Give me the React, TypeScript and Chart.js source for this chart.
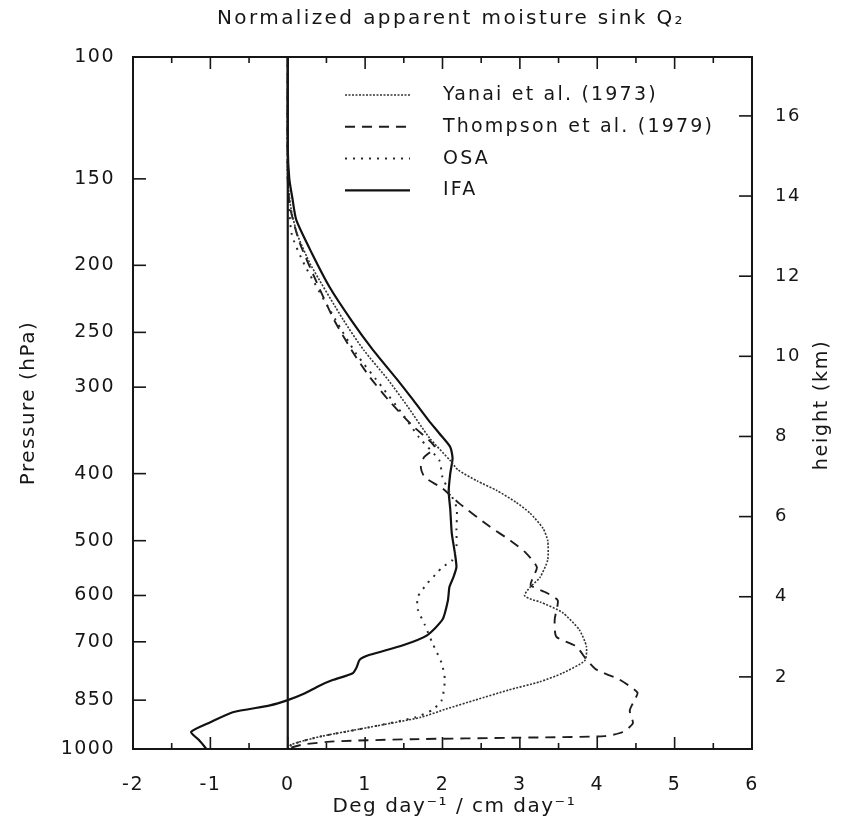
import { useEffect, useRef } from "react";
import { Chart, registerables } from "chart.js";

Chart.register(...registerables);

// ---- Data (pressure in hPa, Q2 in Deg day^-1 / cm day^-1) ----
const chartTitle = "Normalized apparent moisture sink Q₂";
const xTitle = "Deg day⁻¹ / cm day⁻¹";
const yTitle = "Pressure (hPa)";
const hTitle = "height (km)";

const pressureTicks = [100, 150, 200, 250, 300, 400, 500, 600, 700, 850, 1000];
const heightTicks = [2, 4, 6, 8, 10, 12, 14, 16];
const xTicks = [-2, -1, 0, 1, 2, 3, 4, 5, 6];

const seriesLabels = ["Yanai et al. (1973)", "Thompson et al. (1979)", "OSA", "IFA"];

const yanaiP = [100, 150, 165, 180, 200, 240, 265, 293, 320, 355, 383, 395, 410, 423, 440, 456, 480, 500, 533, 565, 584, 600, 608, 613, 635, 673, 711, 745, 777, 800, 822, 850, 875, 900, 930, 960, 985, 1000];
const yanaiQ = [0, 0, 0.04, 0.12, 0.3, 0.72, 0.98, 1.3, 1.55, 1.83, 2.1, 2.2, 2.45, 2.7, 2.95, 3.13, 3.3, 3.36, 3.36, 3.26, 3.13, 3.06, 3.15, 3.26, 3.55, 3.77, 3.86, 3.84, 3.55, 3.25, 2.85, 2.42, 2.05, 1.72, 1.06, 0.41, 0.05, 0];

const thompsonP = [100, 150, 165, 185, 210, 240, 268, 290, 313, 340, 366, 379, 392, 405, 420, 442, 477, 500, 521, 546, 565, 580, 595, 610, 650, 688, 711, 740, 768, 794, 829, 850, 880, 918, 945, 958, 963, 968, 975, 985, 995, 1000];
const thompsonQ = [0, 0, 0.03, 0.15, 0.36, 0.6, 0.85, 1.06, 1.3, 1.6, 1.9, 1.76, 1.72, 1.77, 2.0, 2.22, 2.61, 2.88, 3.08, 3.22, 3.17, 3.14, 3.35, 3.49, 3.45, 3.47, 3.73, 3.85, 3.99, 4.29, 4.52, 4.48, 4.42, 4.46, 4.33, 4.1, 3.0, 1.6, 0.6, 0.2, 0.05, 0];

const osaP = [100, 150, 180, 200, 240, 268, 300, 330, 355, 383, 405, 447, 483, 510, 533, 546, 558, 577, 603, 628, 661, 703, 752, 794, 850, 878, 900, 930, 960, 985, 1000];
const osaQ = [0, 0, 0.05, 0.22, 0.62, 0.88, 1.22, 1.5, 1.7, 1.96, 2.0, 2.18, 2.18, 2.18, 2.13, 2.0, 1.92, 1.8, 1.68, 1.68, 1.77, 1.87, 1.99, 2.03, 1.99, 1.87, 1.65, 1.06, 0.41, 0.05, 0];

const ifaP = [100, 135, 150, 160, 172, 192, 215, 240, 265, 293, 313, 335, 350, 366, 380, 400, 425, 450, 488, 521, 546, 565, 583, 610, 650, 685, 708, 731, 743, 762, 777, 795, 810, 833, 850, 865, 885, 915, 945, 970, 1000];
const ifaQ = [0, 0, 0.02, 0.06, 0.11, 0.31, 0.54, 0.82, 1.1, 1.42, 1.62, 1.82, 1.96, 2.1, 2.13, 2.1, 2.08, 2.1, 2.12, 2.16, 2.18, 2.14, 2.09, 2.07, 2.0, 1.8, 1.49, 1.06, 0.93, 0.89, 0.84, 0.58, 0.41, 0.2, 0, -0.23, -0.71, -1.0, -1.25, -1.15, -1.05];

const FONT = "'DejaVu Sans', sans-serif";
const INK = "#161616";

const toPoints = (p: number[], q: number[]) => p.map((v, i) => ({ x: q[i], y: v }));

const framePlugin = {
  id: "frame",
  beforeDraw(chart: any) {
    chart.ctx.letterSpacing = "1.5px";
  },
  afterDatasetsDraw(chart: any) {
    const { ctx, chartArea: a, scales } = chart;
    ctx.save();
    ctx.strokeStyle = INK;
    ctx.setLineDash([]);
    const seg = (x1: number, y1: number, x2: number, y2: number) => {
      ctx.beginPath();
      ctx.moveTo(x1, y1);
      ctx.lineTo(x2, y2);
      ctx.stroke();
    };
    ctx.lineWidth = 2;
    ctx.strokeRect(a.left, a.top, a.right - a.left, a.bottom - a.top);
    // zero line
    const x0 = scales.x.getPixelForValue(0);
    ctx.lineWidth = 2.2;
    seg(x0, a.top, x0, a.bottom);
    // x ticks (inward, top and bottom)
    ctx.lineWidth = 1.6;
    xTicks.forEach((v, i) => {
      const px = scales.x.getPixelForValue(v);
      seg(px, a.bottom, px, a.bottom - 12);
      seg(px, a.top, px, a.top + 12);
      if (i < xTicks.length - 1) {
        const m = scales.x.getPixelForValue((v + xTicks[i + 1]) / 2);
        seg(m, a.bottom, m, a.bottom - 6);
        seg(m, a.top, m, a.top + 6);
      }
    });
    pressureTicks.forEach((p) => {
      const py = scales.y.getPixelForValue(p);
      seg(a.left, py, a.left + 13, py);
    });
    heightTicks.forEach((h) => {
      const py = scales.h.getPixelForValue(h);
      seg(a.right, py, a.right - 13, py);
    });
    ctx.restore();
  },
  afterDraw(chart: any) {
    const { ctx, chartArea: a } = chart;
    ctx.save();
    ctx.fillStyle = INK;
    ctx.textBaseline = "middle";
    // chart title
    ctx.letterSpacing = "2.4px";
    ctx.font = `20px ${FONT}`;
    ctx.textAlign = "center";
    ctx.fillText(chartTitle, 443, 11);
    // right axis title, reading upward
    ctx.save();
    ctx.letterSpacing = "1.8px";
    ctx.font = `19px ${FONT}`;
    ctx.translate(814, (a.top + a.bottom) / 2 + 2);
    ctx.rotate(-Math.PI / 2);
    ctx.fillText(hTitle, 0, 0);
    ctx.restore();
    // legend
    ctx.letterSpacing = "2.2px";
    ctx.textAlign = "left";
    ctx.font = `19px ${FONT}`;
    chart.data.datasets.forEach((ds: any, i: number) => {
      const y = a.top + 38 + i * 31.8;
      ctx.strokeStyle = ds.borderColor;
      ctx.lineWidth = ds.borderWidth;
      ctx.setLineDash(ds.borderDash || []);
      ctx.beginPath();
      ctx.moveTo(a.left + 212, y);
      ctx.lineTo(a.left + 277, y);
      ctx.stroke();
      ctx.fillText(ds.label, a.left + 310, y);
    });
    ctx.restore();
  },
};

export default function App() {
  const ref = useRef<HTMLCanvasElement>(null);
  useEffect(() => {
    const tickFont = { family: FONT, size: 19 };
    const titleFont = { family: FONT, size: 20 };
    const chart = new Chart(ref.current!, {
      type: "scatter",
      data: {
        datasets: [
          {
            label: seriesLabels[0],
            data: toPoints(yanaiP, yanaiQ),
            borderColor: "#333",
            borderWidth: 1.6,
            borderDash: [2, 1.5],
          },
          {
            label: seriesLabels[1],
            data: toPoints(thompsonP, thompsonQ),
            borderColor: "#1e1e1e",
            borderWidth: 1.9,
            borderDash: [10, 7],
          },
          {
            label: seriesLabels[2],
            data: toPoints(osaP, osaQ),
            borderColor: "#2a2a2a",
            borderWidth: 2,
            borderDash: [2, 6],
          },
          {
            label: seriesLabels[3],
            data: toPoints(ifaP, ifaQ),
            borderColor: "#111",
            borderWidth: 2.2,
            borderDash: [],
          },
        ].map((d) => ({ ...d, showLine: true, pointRadius: 0, tension: 0.2, fill: false })),
      },
      options: {
        animation: false,
        responsive: true,
        maintainAspectRatio: false,
        layout: { padding: { top: 49, left: 0, right: 0, bottom: 0 } },
        plugins: { legend: { display: false }, tooltip: { enabled: false }, title: { display: false } },
        scales: {
          x: {
            type: "linear",
            position: "bottom",
            min: -2,
            max: 6,
            afterBuildTicks: (s: any) => {
              s.ticks = xTicks.map((v) => ({ value: v }));
            },
            afterFit: (s: any) => {
              s.height = 70;
            },
            grid: { display: false },
            border: { display: false },
            ticks: {
              font: tickFont,
              color: INK,
              padding: 17,
              callback: (v: any) => (Number(v) < 0 ? "-" + Math.abs(Number(v)) : String(v)),
            },
            title: { display: true, text: "   " + xTitle, font: titleFont, color: INK, padding: { top: 0, bottom: 0 } },
          },
          y: {
            type: "logarithmic",
            position: "left",
            reverse: true,
            min: 100,
            max: 1000,
            afterBuildTicks: (s: any) => {
              s.ticks = pressureTicks.map((v) => ({ value: v }));
            },
            afterFit: (s: any) => {
              s.width = 125;
            },
            grid: { display: false },
            border: { display: false },
            ticks: { font: tickFont, color: INK, padding: 10, callback: (v: any) => String(v) },
            title: { display: true, text: yTitle, font: titleFont, color: INK, padding: { top: 9, bottom: 0 } },
          },
          h: {
            type: "linear",
            position: "right",
            min: 0.2,
            max: 17.47,
            afterBuildTicks: (s: any) => {
              s.ticks = heightTicks.map((v) => ({ value: v }));
            },
            afterFit: (s: any) => {
              s.width = 90;
            },
            grid: { display: false },
            border: { display: false },
            ticks: { font: { family: FONT, size: 18 }, color: INK, padding: 15, callback: (v: any) => String(v) },
            title: { display: false },
          },
        },
      },
      plugins: [framePlugin],
    } as any);
    return () => chart.destroy();
  }, []);
  return (
    <div style={{ width: 834, height: 811, position: "relative" }}>
      <canvas ref={ref} />
    </div>
  );
}
